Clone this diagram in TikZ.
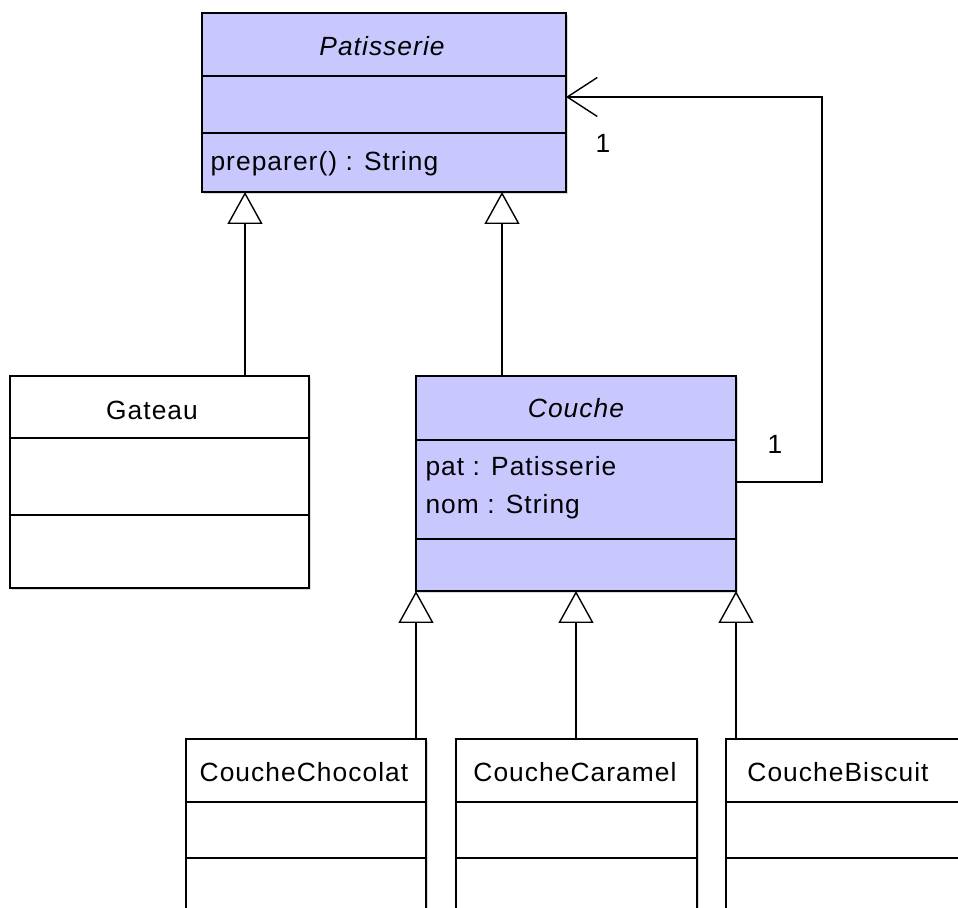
\documentclass[tikz,border=0pt]{standalone}
\usepackage{fontspec}
\setmainfont[LetterSpace=4]{Liberation Sans}
\usetikzlibrary{arrows.meta,shadows}
\definecolor{lav}{HTML}{C8C8FF}
\definecolor{shade}{HTML}{B4B4B4}
\newcommand{\umlfont}{\fontsize{15}{18}\selectfont}

\begin{document}
\begin{tikzpicture}[x=0.02cm, y=-0.02cm, line width=0.8pt, font=\umlfont,
  cls/.style n args={2}{draw, fill=white, inner sep=0pt, outer sep=0pt,
    minimum width=#1*0.02cm, minimum height=#2*0.02cm,
    drop shadow={shadow xshift=1.2pt, shadow yshift=-1.2pt, fill=shade}},
  genl/.style={-{Triangle[open, length=0.64cm, width=0.7cm]}},
  assoc/.style={-{Straight Barb[length=0.6cm, width=0.78cm]}}]
  \useasboundingbox (0,0) rectangle (958,908);
  \clip (0,0) rectangle (958,908);

  % abstract classes
  \node[cls={364}{179}, fill=lav] (pat) at (384,102.5) {};
  \node[cls={320}{215}, fill=lav] (cou) at (576,483.5) {};
  \draw (pat.west |- 0,76) -- (pat.east |- 0,76);
  \draw (pat.west |- 0,133) -- (pat.east |- 0,133);
  \draw (cou.west |- 0,440) -- (cou.east |- 0,440);
  \draw (cou.west |- 0,539) -- (cou.east |- 0,539);
  \node[font=\umlfont\itshape] (patname) at (382,46) {Patisserie};
  \node[anchor=west] (prep) at (204,164) {preparer() : String};
  \node[font=\umlfont\itshape] (couname) at (576,408) {Couche};
  \node[anchor=west] (attpat) at (419,469) {pat : Patisserie};
  \node[anchor=west] (attnom) at (419,507) {nom : String};

  % concrete classes
  \node[cls={299}{212}] (gat) at (159.5,482) {};
  \draw (gat.west |- 0,438) -- (gat.east |- 0,438);
  \draw (gat.west |- 0,515) -- (gat.east |- 0,515);
  \node (gatname) at (152,410) {Gateau};

  \node[cls={240}{200}] (choc) at (306,839) {};
  \node[cls={241}{200}] (cara) at (576.5,839) {};
  \node[cls={240}{200}] (bisc) at (846,839) {};
  \foreach \c in {choc,cara,bisc}{
    \draw (\c.west |- 0,802) -- (\c.east |- 0,802);
    \draw (\c.west |- 0,858) -- (\c.east |- 0,858);
  }
  \node (chocname) at (304,772) {CoucheChocolat};
  \node (caraname) at (575,772) {CoucheCaramel};
  \node (biscname) at (838,772) {CoucheBiscuit};

  % inheritance
  \draw[genl] (gat.north -| 245,0) -- (pat.south -| 245,0);
  \draw[genl] (cou.north -| 502,0) -- (pat.south -| 502,0);
  \draw[genl] (choc.north -| cou.south west) -- (cou.south west);
  \draw[genl] (cara.north -| cou.south) -- (cou.south);
  \draw[genl] (bisc.north -| cou.south east) -- (cou.south east);

  % association Couche -> Patisserie
  \draw[assoc] (cou.east |- 0,482) -| (822,97) -- (pat.east |- 0,97);
  \node (mpat) at (603,143) {1};
  \node (mcou) at (775,444) {1};
\end{tikzpicture}
\end{document}
